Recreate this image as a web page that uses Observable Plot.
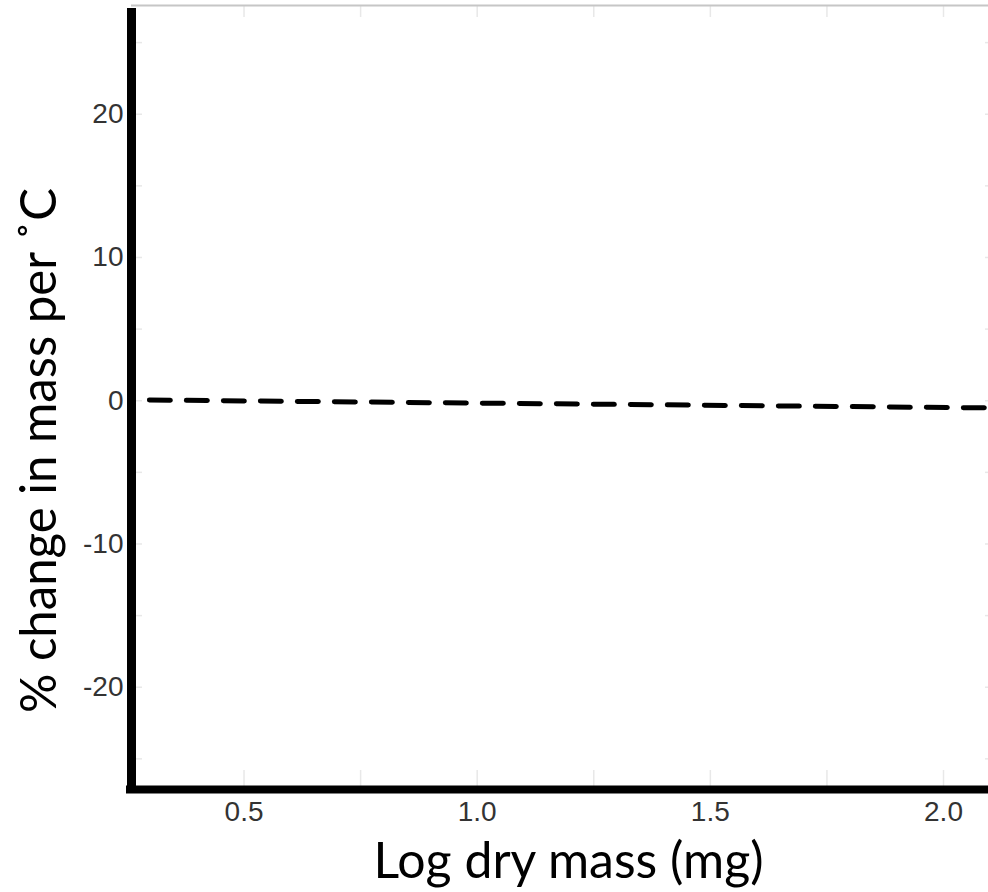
<!DOCTYPE html>
<html>
<head>
<meta charset="utf-8">
<script src="https://cdn.jsdelivr.net/npm/d3@7"></script>
<script src="https://cdn.jsdelivr.net/npm/@observablehq/plot@0.6"></script>
<style>
  html, body { margin: 0; padding: 0; background: #fff; }
  #chart svg { display: block; }
</style>
</head>
<body>
<div id="chart"></div>
<script>
// ---- data ----
const xTitle = "Log dry mass (mg)";
const yTitle = "% change in mass per \u02DAC";
const xTicks = [0.5, 1.0, 1.5, 2.0];
const xTickLabels = ["0.5", "1.0", "1.5", "2.0"];
const xGrid = [0.5, 0.75, 1.0, 1.25, 1.5, 1.75, 2.0];
const yTicks = [-20, -10, 0, 10, 20];
const yTickLabels = ["-20", "-10", "0", "10", "20"];
const yGrid = [-25, -20, -15, -10, -5, 0, 5, 10, 15, 20, 25];
const xDomain = [0.2587, 2.0965];
const yDomain = [-27.14, 27.59];
// fitted (dashed) line
const lineX = [0.297, 2.0965];
const lineY = [0.05, -0.5];

const lineData = lineX.map((x, i) => ({x, y: lineY[i]}));
const gridColor = "#e8e8e8";
const tickFont = "'Liberation Sans', Arial, sans-serif";
const titleFont = "Lato, 'Open Sans', sans-serif";

const chart = Plot.plot({
  width: 988,
  height: 892,
  marginLeft: 131,
  marginRight: 0,
  marginTop: 5,
  marginBottom: 103,
  style: {background: "#fff", overflow: "hidden"},
  x: {domain: xDomain},
  y: {domain: yDomain},
  marks: [
    // grid stubs (the visible remains of the panel grid)
    Plot.axisX(xGrid, {anchor: "top", tickSize: -11, stroke: gridColor, strokeWidth: 1.5, tickFormat: () => "", label: null}),
    Plot.axisX(xGrid, {anchor: "bottom", tickSize: -19, stroke: gridColor, strokeWidth: 1.5, tickFormat: () => "", label: null}),
    Plot.axisY(yGrid, {anchor: "left", tickSize: -11, stroke: gridColor, strokeWidth: 1.5, tickFormat: () => "", label: null}),
    Plot.axisY(yGrid, {anchor: "right", tickSize: -4, stroke: gridColor, strokeWidth: 1.5, tickFormat: () => "", label: null}),
    // tick labels
    Plot.axisX(xTicks, {anchor: "bottom", tickSize: 0, tickPadding: 12, fontSize: 28, fontFamily: tickFont, fill: "#333",
      tickFormat: (d) => xTickLabels[xTicks.indexOf(d)], label: null}),
    Plot.axisY(yTicks, {anchor: "left", tickSize: 0, tickPadding: 8, fontSize: 28, fontFamily: tickFont, fill: "#333",
      tickFormat: (d) => yTickLabels[yTicks.indexOf(d)], label: null}),
    // top border
    Plot.ruleY([yDomain[1]], {stroke: "#c6c6c6", strokeWidth: 2}),
    // dashed regression line
    Plot.line(lineData, {x: "x", y: "y", stroke: "#000", strokeWidth: 5, strokeDasharray: "21,16"}),
    // thick axis lines
    Plot.ruleX([xDomain[0]], {stroke: "#000", strokeWidth: 9, insetTop: 3}),
    Plot.ruleY([yDomain[0]], {stroke: "#000", strokeWidth: 8, insetLeft: -5}),
    // axis titles
    Plot.text([xTitle], {text: d => d, frameAnchor: "bottom", textAnchor: "middle", lineAnchor: "middle",
      dy: 72, dx: 8.5, fontSize: 50, fontFamily: titleFont, fill: "#000"}),
    Plot.text([yTitle], {text: d => d, frameAnchor: "left", textAnchor: "middle", lineAnchor: "middle", rotate: -90,
      dx: -92, dy: 53, fontSize: 50, fontFamily: titleFont, fill: "#000"})
  ]
});

document.getElementById("chart").appendChild(chart);

// stretch the titles to the measured lengths of the reference lettering
d3.select(chart).selectAll("text").each(function () {
  const t = this.textContent;
  if (t === xTitle) { this.setAttribute("textLength", 390); this.setAttribute("lengthAdjust", "spacingAndGlyphs"); }
  if (t === yTitle) { this.setAttribute("textLength", 525); this.setAttribute("lengthAdjust", "spacingAndGlyphs"); }
});
</script>
</body>
</html>
